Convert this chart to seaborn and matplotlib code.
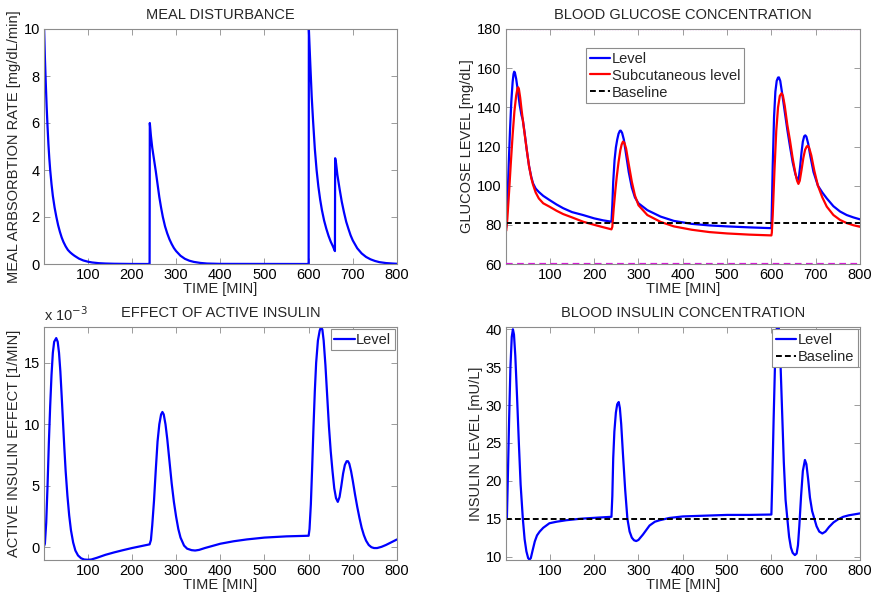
import matplotlib
matplotlib.use("Agg")
import matplotlib.pyplot as plt
import seaborn as sns
import pandas as pd

# ---- meal absorption rate [mg/dL/min] ----
meal_t = [0, 1, 3, 5, 7, 9, 11, 13, 15, 18, 21, 25, 29, 33, 37, 41, 45, 50, 55, 60, 65, 70,
          80, 90, 100, 110, 125, 140, 160, 200, 239.5,
          240, 240.5, 243, 246, 250, 254, 258, 262, 266, 270, 275, 280, 285, 290, 295,
          300, 310, 320, 330, 340, 355, 370, 400, 599.5,
          600, 600.5, 602, 604, 607, 610, 614, 618, 622, 626, 630, 635, 640, 645, 650, 655,
          659.5, 660, 662, 665, 670, 675, 680, 685, 690, 695, 700, 710, 720, 730, 740, 750,
          760, 775, 790, 800]
meal_rate = [5.0, 10.0, 8.8, 7.7, 6.7, 5.85, 5.1, 4.5, 4.0, 3.4, 2.9, 2.4, 2.0, 1.65, 1.37,
             1.13, 0.94, 0.75, 0.6, 0.5, 0.42, 0.35, 0.23, 0.15, 0.1, 0.065, 0.035, 0.02,
             0.01, 0.002, 0.0,
             0.0, 6.0, 5.45, 4.95, 4.45, 3.95, 3.4, 2.85, 2.4, 2.0, 1.6, 1.3, 1.05, 0.85,
             0.68, 0.55, 0.35, 0.22, 0.14, 0.09, 0.045, 0.02, 0.005, 0.0,
             0.0, 10.0, 9.3, 8.4, 7.1, 6.1, 4.9, 4.0, 3.3, 2.75, 2.3, 1.85, 1.5, 1.2, 0.95,
             0.75, 0.55, 4.5, 4.3, 3.8, 3.2, 2.65, 2.2, 1.8, 1.5, 1.22, 1.0, 0.67, 0.45, 0.3,
             0.2, 0.13, 0.08, 0.04, 0.02, 0.01]

# ---- blood glucose [mg/dL] ----
glu_t = [0, 1.5, 4, 7, 10, 13, 16, 18, 19.5, 21, 24, 28, 32, 36, 39, 43, 48, 53, 58, 62,
         68, 75, 85, 99, 115, 130, 150, 175, 200, 220, 239,
         241, 243, 246, 249, 252, 255, 258, 260, 263, 267, 272, 278, 285, 292, 300, 320,
         350, 380, 420, 460, 500, 550, 600,
         601, 603, 606, 609, 612, 615, 617, 620, 625, 630, 636, 642, 648, 654, 658, 660,
         662, 665, 668, 671, 674, 676.5, 679, 683, 688, 695, 705, 715, 725, 740, 755, 770,
         785, 800]
glu_level = [78, 79, 90, 110, 128, 143, 153, 157, 158.2, 157.8, 154.5, 148, 141, 136, 133.5,
             127, 118, 110, 104.5, 101.2, 98.5, 96.8, 94.8, 92.7, 90.4, 88.5, 86.5, 85, 83.3,
             82.3, 81.6,
             90, 102, 113, 119.5, 123.5, 126.5, 128, 128.1, 127, 123.5, 116, 107, 99, 94, 91,
             87.5, 84.2, 82, 80.5, 79.7, 79.2, 78.7, 78.3,
             88, 110, 135, 148, 153.5, 155.2, 155.3, 153.5, 146, 138, 128.5, 120, 112, 106,
             103.3, 102.9, 104, 110, 117, 122.5, 125.2, 125.7, 125, 121.5, 115, 107, 100,
             96.5, 93.5, 89.5, 86.8, 85, 83.8, 82.8]
glu_t_sc = [0, 1.5, 4, 8, 12, 16, 20, 24, 27, 28.5, 30, 33, 36, 39, 43, 48, 53, 58, 62, 68,
            75, 85, 99, 115, 130, 150, 175, 200, 220, 239,
            241, 244, 248, 251, 255, 259, 262, 265, 268, 272, 278, 285, 292, 300, 320, 350,
            380, 420, 460, 500, 550, 600,
            601, 603, 607, 611, 615, 619, 623, 626, 630, 636, 642, 648, 654, 658, 661, 664,
            668, 672, 676, 680, 682, 685, 690, 697, 705, 715, 725, 740, 755, 770, 785, 800]
glu_sc = [77, 77, 83, 97, 112, 126, 138, 146, 149.8, 150.2, 149.5, 145, 139, 133.5, 126.5,
          118, 110, 104, 100.5, 96.5, 93.5, 91, 89.3, 87.2, 85.5, 83.8, 81.6, 80, 78.8, 77.7,
          79, 88, 98, 104.6, 112, 118, 121, 122.5, 122, 119, 111, 102, 95, 90, 85, 81.5,
          79.2, 77.5, 76.3, 75.6, 75, 74.6,
          76, 85, 108, 128, 140, 145.8, 147.2, 146, 141, 131, 123, 114, 106.5, 102.5, 100.9,
          102.5, 108, 114, 118.3, 120.1, 120.3, 119.5, 115.5, 107.5, 100, 94, 89.3, 85, 82.5,
          80.9, 79.8, 79]
glu_baseline = 81
glu_low, glu_high = 60, 180

# ---- effect of active insulin [1/MIN], in units of 1e-3 ----
ins_eff_t = [0, 3, 6, 9, 12, 15, 18, 21, 24, 28.7, 32, 35, 38, 41, 44, 47, 50, 54, 58, 62,
             67, 72, 78, 85, 92, 100, 108, 120, 140, 160, 180, 200, 220, 240,
             243, 246, 250, 254, 258, 262, 266, 269, 272, 276, 280, 285, 290, 295, 300, 305,
             310, 318, 325, 335, 343, 352, 365, 380, 400, 430, 460, 500, 550, 600,
             602, 605, 608, 611, 614, 617, 621, 625, 628, 631, 634, 638, 642, 646, 650, 654,
             658, 662, 666, 670, 674, 678, 682, 686, 689, 692, 696, 700, 705, 710, 715, 720,
             725, 730, 736, 742, 748, 755, 765, 775, 785, 800]
ins_eff = [0.0, 0.3, 2.0, 5.0, 8.5, 11.5, 14.0, 15.8, 16.7, 17.0, 16.7, 15.8, 14.3, 12.3, 10.2,
           8.1, 6.2, 4.2, 2.6, 1.4, 0.4, -0.25, -0.65, -0.88, -0.98, -1.0, -0.98, -0.85, -0.6,
           -0.4, -0.22, -0.05, 0.1, 0.25,
           0.6, 1.8, 3.8, 6.3, 8.6, 10.0, 10.8, 11.0, 10.8, 10.0, 8.8, 7.0, 5.2, 3.7, 2.5,
           1.5, 0.8, 0.15, -0.1, -0.22, -0.25, -0.2, -0.05, 0.1, 0.3, 0.5, 0.65, 0.8, 0.9,
           0.95,
           1.5, 3.5, 6.5, 9.8, 12.7, 15.0, 16.8, 17.6, 17.9, 17.7, 16.8, 14.8, 12.3, 9.8, 7.8,
           6.2, 4.8, 4.0, 3.7, 4.1, 5.0, 6.0, 6.7, 7.0, 7.0, 6.8, 6.2, 5.4, 4.3, 3.3, 2.4,
           1.6, 1.0, 0.55, 0.2, 0.02, -0.05, -0.05, 0.05, 0.2, 0.38, 0.65]

# ---- blood insulin [mU/L] ----
ins_t = [0, 3, 5, 8, 11, 14, 16.6, 19, 22, 26, 30, 34, 39, 43, 47, 51, 54, 57, 61, 66, 71,
         77, 85, 99, 115, 137, 170, 210, 239,
         241, 243, 245.6, 249, 252, 255.4, 258, 261, 265, 270, 275, 280, 285, 290, 295, 300,
         310, 325, 337, 348, 370, 400, 450, 500, 550, 600,
         602, 605, 608, 611, 614, 617, 620, 624, 628, 632, 636, 640, 644, 648, 653, 657,
         660, 663, 667, 671, 675.7, 679, 683, 687, 692, 697, 702, 708, 715, 722, 730, 740,
         750, 762, 775, 790, 800]
ins_level = [15, 15.05, 20, 28, 35, 39, 40, 39.3, 36.5, 31, 25, 19.5, 15, 12.3, 10.7, 9.8,
             9.6, 9.8, 10.8, 12, 12.8, 13.3, 13.8, 14.4, 14.6, 14.8, 15.0, 15.15, 15.25,
             18, 23, 26.5, 29, 30.1, 30.4, 29.6, 27.5, 23.5, 18.8, 15.0, 13.3, 12.5, 12.15,
             12.05, 12.2, 12.9, 14.1, 14.6, 14.8, 15.1, 15.3, 15.4, 15.5, 15.5, 15.55,
             20, 28, 35, 39.5, 41, 40, 36.5, 29.5, 22.5, 17.5, 15, 12.6, 11.2, 10.5, 10.2,
             10.4, 11.5, 14, 18, 21.3, 22.75, 22.2, 20.2, 17.8, 16, 15, 14, 13.3, 13.05, 13.3,
             13.9, 14.5, 14.9, 15.25, 15.45, 15.6, 15.7]
ins_baseline = 15

BLUE = "#0000ff"
RED = "#ff0000"
GRAY = "#8c8c8c"
FONT = ["Liberation Sans", "DejaVu Sans"]

sns.set_theme(style="white")
plt.rcParams["font.family"] = FONT
plt.rcParams["font.size"] = 10.5

fig = plt.figure(figsize=(8.72, 5.96), dpi=100)
W, H = 872, 596


def add_axes(l, t, r, b):
    return fig.add_axes([l / W, 1 - b / H, (r - l) / W, (b - t) / H])


ax1 = add_axes(44, 29, 397, 264)
ax2 = add_axes(506, 29, 860, 264)
ax3 = add_axes(44, 327, 397, 560)
ax4 = add_axes(506, 327, 860, 560)

lw = 1.6


def style(ax, ylim, yticks, title, ylabel):
    ax.set_xlim(1, 800)
    ax.set_ylim(*ylim)
    ax.set_xticks(range(100, 801, 100))
    ax.set_yticks(yticks)
    ax.tick_params(direction="in", length=4, width=0.6, color=GRAY,
                   top=True, right=True, bottom=True, left=True,
                   labelsize=10.5, pad=3, labelcolor="black")
    for s in ax.spines.values():
        s.set_color(GRAY)
        s.set_linewidth(0.8)
    ax.set_title(title, fontsize=10.5, pad=7)
    ax.set_xlabel("TIME [MIN]", fontsize=10.5, labelpad=0)
    ax.set_ylabel(ylabel, fontsize=10.5, labelpad=2)


def mlegend(ax, **kw):
    leg = ax.legend(frameon=True, fancybox=False, handlelength=1.4, handletextpad=0.1,
                    borderpad=0.25, labelspacing=0.2, fontsize=10.5, framealpha=1, **kw)
    leg.get_frame().set_edgecolor(GRAY)
    leg.get_frame().set_linewidth(0.8)
    return leg


# Meal disturbance
meal_df = pd.DataFrame({"t": meal_t, "rate": meal_rate})
sns.lineplot(data=meal_df, x="t", y="rate", ax=ax1, color=BLUE, lw=lw,
             sort=False, estimator=None)
style(ax1, (0, 10), range(0, 11, 2), "MEAL DISTURBANCE",
      "MEAL ARBSORBTION RATE [mg/dL/min]")

# Blood glucose, with hypo/hyper limits on the axis edges
glu_df = pd.DataFrame({"t": glu_t, "g": glu_level})
glu_sc_df = pd.DataFrame({"t": glu_t_sc, "g": glu_sc})
ax2.axhline(glu_low, color="#d21ed2", lw=1.6, ls=(0, (3, 2)), zorder=3)
ax2.axhline(glu_high, color="#f0a0f0", lw=1.0, ls=(0, (1, 1)), zorder=1)
sns.lineplot(data=glu_df, x="t", y="g", ax=ax2, color=BLUE, lw=lw,
             sort=False, estimator=None, label="Level")
sns.lineplot(data=glu_sc_df, x="t", y="g", ax=ax2, color=RED, lw=lw,
             sort=False, estimator=None, label="Subcutaneous level")
ax2.axhline(glu_baseline, color="black", lw=1.4, ls=(0, (3, 1.6)), label="Baseline")
style(ax2, (60, 180), range(60, 181, 20), "BLOOD GLUCOSE CONCENTRATION",
      "GLUCOSE LEVEL [mg/dL]")
mlegend(ax2, loc="upper left", bbox_to_anchor=(0.226, 0.919), borderaxespad=0)

# Effect of active insulin
eff_df = pd.DataFrame({"t": ins_eff_t, "e": ins_eff})
sns.lineplot(data=eff_df, x="t", y="e", ax=ax3, color=BLUE, lw=lw,
             sort=False, estimator=None, label="Level")
style(ax3, (-1.02, 17.9), [0, 5, 10, 15], "EFFECT OF ACTIVE INSULIN",
      "ACTIVE INSULIN EFFECT [1/MIN]")
ax3.text(0.0, 1.015, r"x 10$^{-3}$", transform=ax3.transAxes, ha="left", va="bottom",
         fontsize=10.5)
mlegend(ax3, loc="upper right", borderaxespad=0.15)

# Blood insulin
ins_df = pd.DataFrame({"t": ins_t, "i": ins_level})
sns.lineplot(data=ins_df, x="t", y="i", ax=ax4, color=BLUE, lw=lw,
             sort=False, estimator=None, label="Level")
ax4.axhline(ins_baseline, color="black", lw=1.4, ls=(0, (3, 1.6)), label="Baseline")
style(ax4, (9.55, 40.3), range(10, 41, 5), "BLOOD INSULIN CONCENTRATION",
      "INSULIN LEVEL [mU/L]")
mlegend(ax4, loc="upper right", borderaxespad=0.15)

fig.savefig("out.png", dpi=100)
